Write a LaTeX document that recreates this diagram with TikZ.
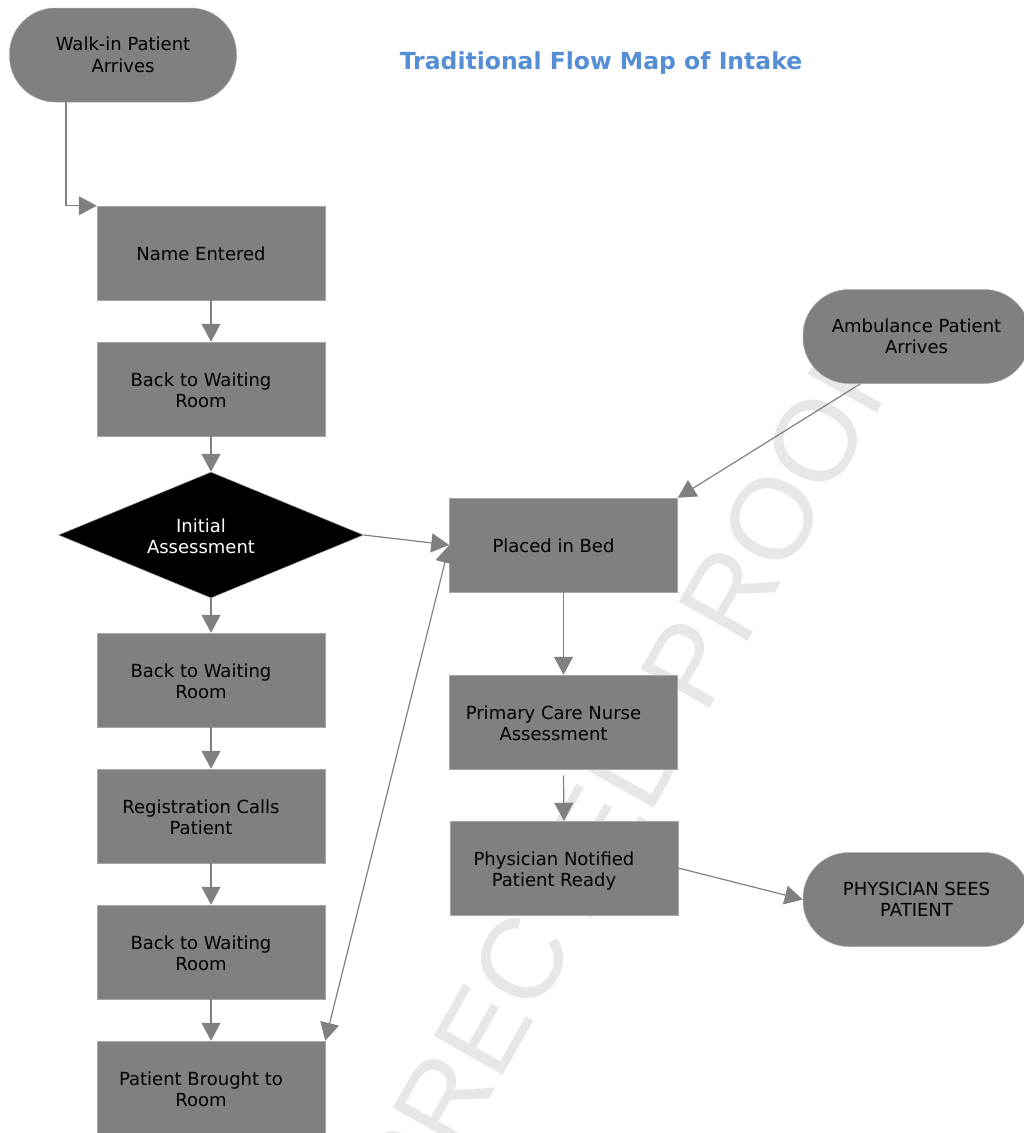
\documentclass[tikz,border=0pt]{standalone}
\usepackage{fontspec}
\setmainfont{DejaVu Sans}
\newfontfamily\prooffont{Liberation Sans}
\usetikzlibrary{shapes.geometric,arrows.meta}
\definecolor{titleblue}{HTML}{558ED5}
\definecolor{boxgray}{HTML}{808080}
\definecolor{proofgray}{HTML}{E6E7E8}
% box texts sit a bit left of and below the box middle
\newcommand\steptext[1]{\raisebox{-3.5pt}[\height][\depth]{\begin{tabular}{@{}c@{}}#1\end{tabular}}\hspace*{20pt}}

\begin{document}
\begin{tikzpicture}[x=1pt,y=-1pt,
    every node/.style={font=\fontsize{18}{21.5}\selectfont},
    stepbox/.style={rectangle,fill=boxgray,draw=gray!70,line width=0.5pt,
      minimum width=228pt,minimum height=94pt,inner sep=0pt,align=center},
    terminal/.style={stepbox,rounded corners=46pt,minimum width=227pt},
    decision/.style={diamond,shape aspect=2.4,fill=black,draw=gray!70,line width=0.5pt,
      text=white,minimum width=305pt,minimum height=126pt,inner sep=0pt,align=center},
    >={Triangle[width=19pt,length=18pt]},
    flow/.style={->,draw=boxgray,line width=1.2pt}]
  \useasboundingbox (0,0) rectangle (1024,1133);

  % watermark behind everything
  \node[text=proofgray,font=\prooffont\fontsize{115}{115}\selectfont,
    rotate=60.5,inner sep=0pt] (proof) at (544,922) {UNCORRECTED PROOF};

  \node[font=\bfseries\fontsize{23.5}{28}\selectfont,text=titleblue] (title) at (601,63)
    {Traditional Flow Map of Intake};

  \node[terminal] (walkin) at (123,55) {Walk-in Patient\\Arrives};

  % left column
  \foreach \nm/\yy/\txt in {name/253/{Name Entered},
      back1/389/{Back to Waiting\\Room},
      back2/680/{Back to Waiting\\Room},
      reg/816/{Registration Calls\\Patient},
      back3/952/{Back to Waiting\\Room},
      brought/1088/{Patient Brought to\\Room}}
    \node[stepbox] (\nm) at (211,\yy) {\steptext{\txt}};
  \node[decision] (assess) at (211,535) {\steptext{Initial\\Assessment}};

  % right column
  \node[stepbox] (bed) at (563.5,545) {\steptext{Placed in Bed}};
  \node[stepbox] (nurse) at (563.5,722) {\steptext{Primary Care Nurse\\Assessment}};
  \node[stepbox] (notified) at (564,868) {\steptext{Physician Notified\\Patient Ready}};
  \node[terminal] (ambulance) at (916.5,336.5) {Ambulance Patient\\Arrives};
  \node[terminal] (sees) at (916.5,899.5) {PHYSICIAN SEES\\PATIENT};

  \draw[flow] ([xshift=-57pt]walkin.south) |- (name.north west);
  \foreach \a/\b in {name/back1,back1/assess,assess/back2,back2/reg,reg/back3,back3/brought}
    \draw[flow] (\a) -- (\b);
  \draw[flow] (assess.east) -- (bed.west);
  \draw[flow,<->] (brought.north east) -- (bed.west);
  \draw[flow] ([xshift=-56pt]ambulance.south) -- (bed.north east);
  \draw[flow] (bed) -- (nurse);
  \draw[flow] ([yshift=-6pt]nurse.south) -- (notified.north);
  \draw[flow] (notified.east) -- (sees.west);
\end{tikzpicture}
\end{document}
